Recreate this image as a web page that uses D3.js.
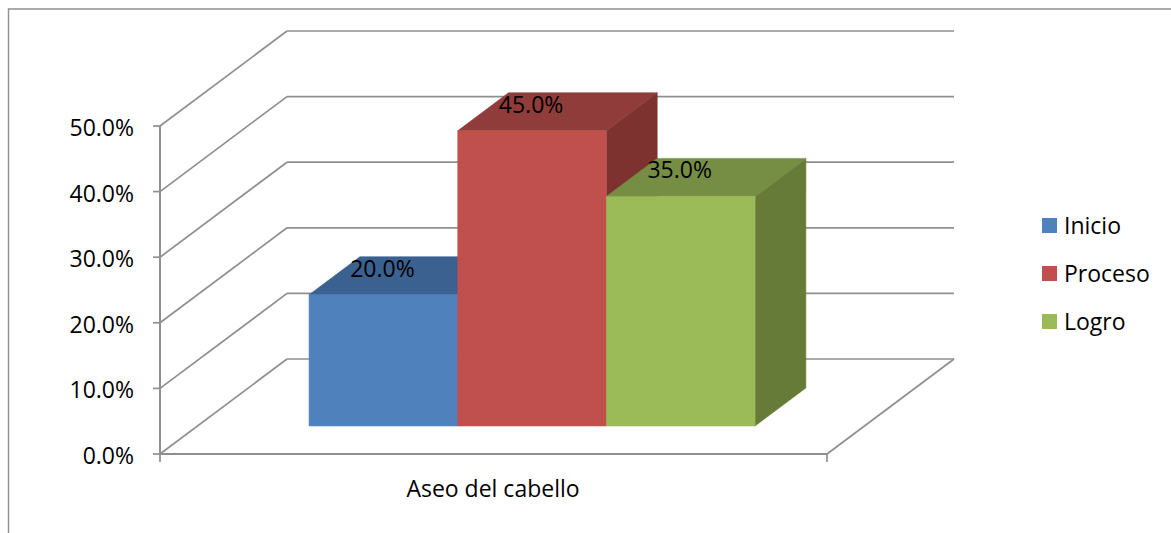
<!DOCTYPE html>
<html><head><meta charset="utf-8">
<script src="https://cdnjs.cloudflare.com/ajax/libs/d3/7.8.5/d3.min.js"></script>
<style>html,body{margin:0;padding:0;background:#fff}svg{display:block}text{font-family:"Open Sans",sans-serif;fill:#000}</style>
</head><body><svg id="c" width="1171" height="533"></svg>
<script>
const categories = ["Aseo del cabello"];
const seriesNames = ["Inicio", "Proceso", "Logro"];
const inicioValues = [0.20];
const procesoValues = [0.45];
const logroValues = [0.35];
const yTicks = [0, 0.1, 0.2, 0.3, 0.4, 0.5];
const frontColors = ["#4F81BD", "#C0504D", "#9BBB59"];
const topColors = ["#3B6190", "#903C3A", "#768E43"];
const sideColors = ["#345580", "#7D3230", "#667B37"];
const seriesValues = [inicioValues, procesoValues, logroValues];

const svg = d3.select("#c");
const y = d3.scaleLinear().domain([0, 0.5]).range([454, 126]);
const xOuter = d3.scaleBand().domain(categories).range([160, 827]).paddingOuter(0.2478).align(0.505);
const xInner = d3.scaleBand().domain(seriesNames).range([0, xOuter.bandwidth()]);
const depthX = d3.scaleLinear().domain([0, 1]).range([0, 127]);
const depthY = d3.scaleLinear().domain([0, 1]).range([0, 95]);
const barDepthStart = 0.295, barDepthEnd = 0.695;
const P = (x, v, d) => [x + depthX(d), y(v) - depthY(d)];
const grey = "#8F8F8F";
const fontSize = 23;
const poly = (pts, fill) => svg.append("polygon").attr("points", pts.map(p => p.join(",")).join(" ")).attr("fill", fill).attr("stroke", fill).attr("stroke-width", 0.6);
const line = (a, b, w) => svg.append("line").attr("x1", a[0]).attr("y1", a[1]).attr("x2", b[0]).attr("y2", b[1]).attr("stroke", grey).attr("stroke-width", w || 1.7);

// outer frame
svg.append("path").attr("d", "M8.5,533V9H1171").attr("fill", "none").attr("stroke", grey).attr("stroke-width", 1.4);

const [x0, x1] = xOuter.range();
// walls and gridlines
yTicks.forEach(t => {
  line(P(x0, t, 0), P(x0, t, 1));
  line(P(x0, t, 1), P(x1, t, 1));
  line([x0 - 7, y(t)], [x0, y(t)]);
  svg.append("text").attr("x", 134).attr("y", y(t) + 10).attr("text-anchor", "end")
    .attr("font-size", fontSize).text(d3.format(".1%")(t));
});
line([x0, y(0)], [x0, y(0.5)], 2);
line([x0, y(0)], [x1, y(0)], 2);
line(P(x1, 0, 0), P(x1, 0, 1));
line([x0, y(0)], [x0, y(0) + 8]);
line([x1, y(0)], [x1, y(0) + 8]);

// bars
categories.forEach((cat, ci) => {
  seriesNames.forEach((name, si) => {
    const v = seriesValues[si][ci];
    const l = xOuter(cat) + xInner(name), r = l + xInner.bandwidth();
    const a = barDepthStart, b = barDepthEnd;
    poly([P(r, 0, a), P(r, v, a), P(r, v, b), P(r, 0, b)], sideColors[si]);
    poly([P(l, v, a), P(r, v, a), P(r, v, b), P(l, v, b)], topColors[si]);
    poly([P(l, 0, a), P(r, 0, a), P(r, v, a), P(l, v, a)], frontColors[si]);
  });
  seriesNames.forEach((name, si) => {
    const v = seriesValues[si][ci];
    const l = xOuter(cat) + xInner(name), r = l + xInner.bandwidth();
    const top = P((l + r) / 2, v, barDepthStart);
    svg.append("text").attr("x", top[0] - 1).attr("y", top[1] - 18).attr("text-anchor", "middle")
      .attr("font-size", fontSize).text(d3.format(".1%")(v));
  });
  svg.append("text").attr("x", 493).attr("y", 497)
    .attr("text-anchor", "middle").attr("font-size", fontSize).text(cat);
});

// legend
const legendY = d3.scalePoint().domain(seriesNames).range([218, 314]);
seriesNames.forEach((name, si) => {
  svg.append("rect").attr("x", 1042).attr("y", legendY(name)).attr("width", 15).attr("height", 15).attr("fill", frontColors[si]);
  svg.append("text").attr("x", 1064).attr("y", legendY(name) + 16).attr("font-size", fontSize).text(name);
});
</script></body></html>
